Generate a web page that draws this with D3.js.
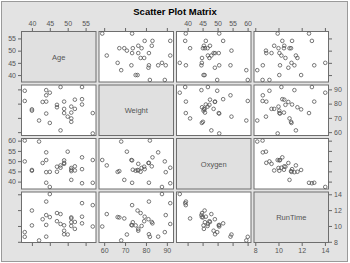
<!DOCTYPE html>
<html>
<head>
<meta charset="utf-8">
<script src="https://cdn.jsdelivr.net/npm/d3@7"></script>
<style>
  body { margin: 0; background: #fff; }
  text { font-family: "Liberation Sans", Arial, sans-serif; fill: #444; }
</style>
</head>
<body>
<div id="chart"></div>
<script>
// size of the page and the grid of panels
const WIDTH = 350;
const HEIGHT = 263;
const GRID = { left: 21, top: 31, width: 308, height: 212, gap: 2 };

// variables of the matrix
const names = ["Age", "Weight", "Oxygen", "RunTime"];

const age = [44, 40, 44, 42, 38, 47, 40, 43, 44, 38, 44, 45, 45, 47, 54, 49,
  51, 51, 48, 49, 57, 54, 52, 50, 51, 54, 51, 57, 49, 48, 52];
const weight = [89.47, 75.07, 85.84, 68.15, 89.02, 77.45, 75.98, 81.19, 81.42,
  81.87, 73.03, 87.66, 66.45, 79.15, 83.12, 81.42, 69.63, 77.91, 91.63, 73.37,
  73.37, 79.38, 76.32, 70.87, 67.25, 91.63, 73.71, 59.08, 76.32, 61.24, 82.78];
const oxygen = [44.609, 45.313, 54.297, 59.571, 49.874, 44.811, 45.681, 49.091,
  39.442, 60.055, 50.541, 37.388, 44.754, 47.273, 51.855, 49.156, 40.836,
  46.672, 46.774, 50.388, 39.407, 46.08, 45.441, 54.625, 45.118, 39.203, 45.79,
  50.545, 48.673, 47.92, 47.467];
const runTime = [11.37, 10.07, 8.65, 8.17, 9.22, 11.63, 11.95, 10.85, 13.08,
  8.63, 10.13, 14.03, 11.12, 10.6, 10.33, 8.95, 10.95, 10.0, 10.25, 10.08,
  12.63, 11.17, 9.63, 8.92, 11.08, 12.88, 10.47, 9.93, 9.4, 11.5, 10.5];

const columns = [age, weight, oxygen, runTime];

// tick labels for each variable
const ticks = [
  [40, 45, 50, 55],
  [60, 70, 80, 90],
  [40, 45, 50, 55, 60],
  [8, 10, 12, 14],
];

const n = names.length;
const pitchX = (GRID.width + GRID.gap) / n;
const pitchY = (GRID.height + GRID.gap) / n;
const cellW = pitchX - GRID.gap;
const cellH = pitchY - GRID.gap;

// padded domain for a variable
function padded(arr) {
  const e = d3.extent(arr);
  const p = (e[1] - e[0]) * 0.055;
  return [e[0] - p, e[1] + p];
}

const xs = columns.map((c) => d3.scaleLinear().domain(padded(c)).range([0, cellW]));
const ys = columns.map((c) => d3.scaleLinear().domain(padded(c)).range([cellH, 0]));

const svg = d3
  .select("#chart")
  .append("svg")
  .attr("width", WIDTH)
  .attr("height", HEIGHT);

// outer frame
svg
  .append("rect")
  .attr("x", 1.5)
  .attr("y", 1.5)
  .attr("width", 346)
  .attr("height", 260)
  .attr("fill", "#e3e3e3")
  .attr("stroke", "#9a9a9a");

svg
  .append("text")
  .attr("x", 175)
  .attr("y", 15)
  .attr("text-anchor", "middle")
  .attr("font-size", "9.5px")
  .attr("font-weight", "bold")
  .style("fill", "#000")
  .text("Scatter Plot Matrix");

const grid = svg
  .append("g")
  .attr("transform", `translate(${GRID.left},${GRID.top})`);

// draw every panel
for (let r = 0; r < n; r++) {
  for (let c = 0; c < n; c++) {
    const cell = grid
      .append("g")
      .attr("transform", `translate(${c * pitchX},${r * pitchY})`);

    cell
      .append("rect")
      .attr("x", 0.5)
      .attr("y", 0.5)
      .attr("width", cellW - 1)
      .attr("height", cellH - 1)
      .attr("fill", r === c ? "#e0e0e0" : "#fff")
      .attr("stroke", "#6e6e6e")
      .attr("stroke-width", 1);

    if (r === c) {
      cell
        .append("text")
        .attr("x", cellW / 2)
        .attr("y", cellH / 2 + 3)
        .attr("text-anchor", "middle")
        .attr("font-size", "7.5px")
        .style("fill", "#555")
        .text(names[r]);
    } else {
      const xv = columns[c];
      const yv = columns[r];
      cell
        .selectAll("circle")
        .data(d3.range(xv.length))
        .join("circle")
        .attr("cx", (i) => xs[c](xv[i]))
        .attr("cy", (i) => ys[r](yv[i]))
        .attr("r", 1.8)
        .attr("fill", "none")
        .attr("stroke", "#555")
        .attr("stroke-width", 0.8);
    }
  }
}

// axes around the outside, labels alternate sides
function styleAxis(g, showLabels) {
  g.select(".domain").remove();
  g.selectAll(".tick line").attr("stroke", "#666");
  g.selectAll(".tick text")
    .attr("font-size", "7px")
    .style("fill", "#555")
    .attr("opacity", showLabels ? 1 : 0);
}

const fmt = d3.format("d");

for (let i = 0; i < n; i++) {
  const top = i % 2 === 0;
  // top
  grid
    .append("g")
    .attr("transform", `translate(${i * pitchX},0)`)
    .call(d3.axisTop(xs[i]).tickValues(ticks[i]).tickFormat(fmt).tickSize(3).tickPadding(2))
    .call((g) => styleAxis(g, top));
  // bottom
  grid
    .append("g")
    .attr("transform", `translate(${i * pitchX},${GRID.height})`)
    .call(d3.axisBottom(xs[i]).tickValues(ticks[i]).tickFormat(fmt).tickSize(3).tickPadding(2))
    .call((g) => styleAxis(g, !top));
  // left
  grid
    .append("g")
    .attr("transform", `translate(0,${i * pitchY})`)
    .call(d3.axisLeft(ys[i]).tickValues(ticks[i]).tickFormat(fmt).tickSize(3).tickPadding(2))
    .call((g) => styleAxis(g, top));
  // right
  grid
    .append("g")
    .attr("transform", `translate(${GRID.width},${i * pitchY})`)
    .call(d3.axisRight(ys[i]).tickValues(ticks[i]).tickFormat(fmt).tickSize(3).tickPadding(2))
    .call((g) => styleAxis(g, !top));
}
</script>
</body>
</html>
